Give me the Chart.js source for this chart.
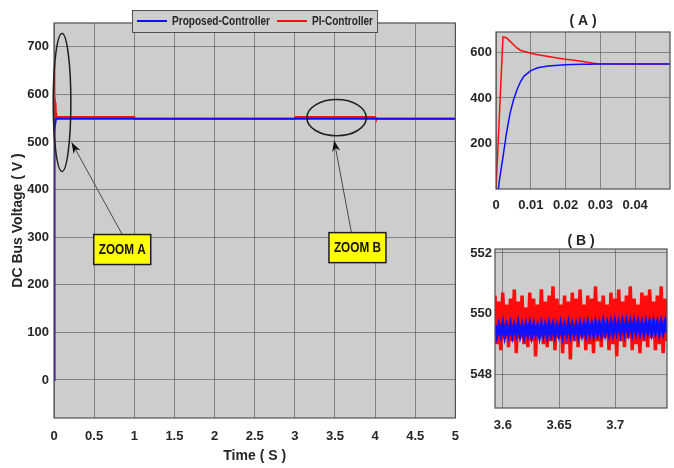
<!DOCTYPE html>
<html>
<head>
<meta charset="utf-8">
<script src="https://cdn.jsdelivr.net/npm/chart.js@4.4.1/dist/chart.umd.min.js"></script>
<style>
  html, body { margin: 0; padding: 0; background: #fff; }
  #wrap { position: relative; width: 674px; height: 468px; }
  canvas { position: absolute; }
  #mainChart { left: 0; top: 0; }
  #zoomA { left: 470px; top: 0; }
  #zoomB { left: 470px; top: 225px; }
</style>
</head>
<body>
<div id="wrap">
  <canvas id="mainChart" width="470" height="468"></canvas>
  <canvas id="zoomA" width="204" height="225"></canvas>
  <canvas id="zoomB" width="204" height="243"></canvas>
</div>
<script>
// main plot: DC bus voltage over 5 s
const mainTime = [0, 0.0007, 0.002, 0.003, 0.005, 0.008, 0.01, 0.015, 0.02, 0.025, 0.03, 0.05, 1.0, 1.01, 3.0, 3.01, 4.0, 4.01, 5.0];
const mainProposed = [0, 0, 140, 245, 390, 495, 520, 541, 546, 548, 549, 549, 549, 549, 549, 549, 549, 549, 549];
const mainPI = [0, 230, 668, 665, 635, 605, 597, 582, 570, 560, 550, 552.5, 552.5, 549, 549, 552.5, 552.5, 549, 549];
const mainXTicks = [0, 0.5, 1, 1.5, 2, 2.5, 3, 3.5, 4, 4.5, 5];
const mainYTicks = [0, 100, 200, 300, 400, 500, 600, 700];

// zoom A: start-up transient
const zoomATime = [0, 0.0007, 0.001, 0.002, 0.003, 0.004, 0.005, 0.006, 0.007, 0.008, 0.01, 0.012, 0.015, 0.018, 0.02, 0.022, 0.025, 0.027, 0.029, 0.035, 0.04, 0.05];
const zoomAProposed = [0, 0, 40, 140, 245, 330, 390, 435, 470, 495, 520, 533, 541, 544, 546, 547, 548, 548.5, 549, 549, 549, 549];
const zoomAPI = [0, 230, 330, 668, 665, 650, 635, 620, 610, 605, 597, 590, 582, 575, 570, 567, 560, 555, 550, 549, 549, 549];
const zoomAXTicks = [0, 0.01, 0.02, 0.03, 0.04];
const zoomAYTicks = [200, 400, 600];

// zoom B: steady-state ripple between 3.593 s and 3.746 s
const zoomBStart = 3.593;
const zoomBEnd = 3.746;
const zoomBPI = [550.6, 549.0, 550.4, 548.8, 550.7, 549.2, 550.3, 548.9, 550.5, 549.1, 550.8, 548.7, 550.4, 549.2, 550.6, 549.0, 550.2, 548.9, 550.7, 549.1,
  550.5, 548.6, 550.3, 549.2, 550.8, 549.0, 550.4, 548.9, 550.6, 549.1, 550.9, 548.8, 550.5, 549.2, 550.3, 548.7, 550.6, 549.0, 550.4, 548.5,
  550.7, 549.1, 550.5, 548.9, 550.8, 549.2, 550.3, 548.8, 550.6, 549.0, 550.5, 548.7, 550.9, 549.1, 550.4, 548.9, 550.6, 549.2, 550.3, 548.8,
  550.7, 549.0, 550.5, 548.6, 550.8, 549.1, 550.4, 548.9, 550.6, 549.2, 550.9, 548.8, 550.5, 549.0, 550.3, 548.7, 550.7, 549.1, 550.6, 548.9,
  550.8, 549.2, 550.4, 548.8, 550.6, 549.0, 550.9, 548.7, 550.5, 549.1];
const zoomBProposed = [549.62, 549.30, 549.60, 549.33, 549.65, 549.28, 549.58, 549.32, 549.63, 549.30, 549.60, 549.35, 549.66, 549.31, 549.59, 549.29, 549.62, 549.34, 549.64, 549.30,
  549.61, 549.33, 549.58, 549.28, 549.63, 549.32, 549.60, 549.30, 549.65, 549.34, 549.62, 549.31, 549.59, 549.33, 549.64, 549.30, 549.61, 549.35, 549.66, 549.32,
  549.62, 549.34, 549.60, 549.31, 549.65, 549.35, 549.63, 549.33, 549.67, 549.36, 549.64, 549.34, 549.68, 549.37, 549.65, 549.35, 549.70, 549.38, 549.66, 549.36,
  549.69, 549.38, 549.71, 549.40, 549.68, 549.37, 549.70, 549.39, 549.72, 549.40, 549.69, 549.38, 549.71, 549.41, 549.70, 549.39, 549.68, 549.38, 549.70, 549.40,
  549.69, 549.39, 549.71, 549.41, 549.68, 549.38, 549.70, 549.40, 549.69, 549.39];
const zoomBXTicks = [3.6, 3.65, 3.7];
const zoomBYTicks = [548, 550, 552];

const seriesNames = ["Proposed-Controller", "PI-Controller"];

const BLUE = "#1010ff";
const RED = "#ff0c0c";
const PLOT_BG = "#cdcdcd";
const GRID = "rgba(70, 70, 70, 0.55)";
const FRAME = "#505050";
const TEXT = "#262626";
const FONT = '"Liberation Sans", Arial, sans-serif';
const NARROW = 0.84;

Chart.defaults.font.family = FONT;
Chart.defaults.font.weight = "bold";
Chart.defaults.font.size = 13;
Chart.defaults.color = TEXT;

function toPoints(xs, ys) {
  return ys.map((y, i) => ({ x: xs[i], y: y }));
}

function sampleTimes(start, end, n) {
  const out = [];
  for (let i = 0; i < n; i++) out.push(start + (end - start) * i / (n - 1));
  return out;
}

// text squeezed horizontally, close to the narrow face in the original
function narrowText(ctx, text, x, y) {
  ctx.save();
  ctx.translate(x, y);
  ctx.scale(NARROW, 1);
  ctx.fillText(text, 0, 0);
  ctx.restore();
}

const plotBox = {
  id: "plotBox",
  beforeDraw(chart) {
    const a = chart.chartArea;
    const ctx = chart.ctx;
    ctx.save();
    ctx.fillStyle = PLOT_BG;
    ctx.fillRect(a.left, a.top, a.right - a.left, a.bottom - a.top);
    ctx.restore();
  },
  afterDraw(chart) {
    const a = chart.chartArea;
    const ctx = chart.ctx;
    ctx.save();
    ctx.strokeStyle = FRAME;
    ctx.lineWidth = 1.2;
    ctx.strokeRect(a.left, a.top, a.right - a.left, a.bottom - a.top);
    ctx.restore();
  },
};

function titlePlugin(text, y) {
  return {
    id: "subTitle",
    afterDraw(chart) {
      const a = chart.chartArea;
      const ctx = chart.ctx;
      ctx.save();
      ctx.fillStyle = TEXT;
      ctx.font = "bold 14px " + FONT;
      ctx.textAlign = "center";
      ctx.textBaseline = "middle";
      ctx.fillText(text, (a.left + a.right) / 2, y);
      ctx.restore();
    },
  };
}

function axis(min, max, tickList, opts) {
  return {
    type: "linear",
    min: min,
    max: max,
    afterBuildTicks: (s) => {
      s.ticks = tickList.map((v) => ({ value: v }));
    },
    afterFit: opts.fit,
    grid: { color: GRID, lineWidth: 1, drawTicks: false },
    border: { display: false },
    ticks: {
      padding: opts.pad,
      autoSkip: false,
      maxRotation: 0,
      callback: (v) => String(v),
    },
    title: opts.title || { display: false },
  };
}

function lineSet(label, data, color, width) {
  return {
    label: label,
    data: data,
    borderColor: color,
    backgroundColor: color,
    borderWidth: width,
    pointRadius: 0,
    tension: 0,
    fill: false,
  };
}

const baseOptions = {
  responsive: false,
  animation: false,
  devicePixelRatio: 1,
  events: [],
  plugins: { legend: { display: false }, tooltip: { enabled: false } },
};

// legend + zoom annotations on the main plot
const mainDecor = {
  id: "mainDecor",
  afterDraw(chart) {
    const ctx = chart.ctx;
    const a = chart.chartArea;
    const xs = chart.scales.x;
    const ys = chart.scales.y;
    const px = (v) => xs.getPixelForValue(v);
    const py = (v) => ys.getPixelForValue(v);
    ctx.save();

    // legend box
    ctx.font = "bold 12px " + FONT;
    const colors = [BLUE, RED];
    const w0 = ctx.measureText(seriesNames[0]).width * NARROW;
    const w1 = ctx.measureText(seriesNames[1]).width * NARROW;
    const boxW = 5 + 30 + 5 + w0 + 7 + 30 + 5 + w1 + 4;
    const boxH = 22;
    const bx = Math.round((a.left + a.right) / 2 - boxW / 2);
    const by = a.top - 13;
    ctx.fillStyle = PLOT_BG;
    ctx.fillRect(bx, by, boxW, boxH);
    ctx.strokeStyle = FRAME;
    ctx.lineWidth = 1;
    ctx.strokeRect(bx + 0.5, by + 0.5, boxW, boxH);
    let cx = bx + 5;
    const cy = by + boxH / 2;
    ctx.textBaseline = "middle";
    ctx.textAlign = "left";
    [w0, w1].forEach((w, i) => {
      ctx.strokeStyle = colors[i];
      ctx.lineWidth = 2;
      ctx.beginPath();
      ctx.moveTo(cx, cy);
      ctx.lineTo(cx + 30, cy);
      ctx.stroke();
      ctx.fillStyle = TEXT;
      narrowText(ctx, seriesNames[i], cx + 35, cy + 1);
      cx += 35 + w + 7;
    });

    // ellipses
    ctx.strokeStyle = "#1e1e1e";
    ctx.lineWidth = 1.5;
    const ell = (t, v, rt, rv) => {
      ctx.beginPath();
      ctx.ellipse(px(t), py(v), Math.abs(px(t + rt) - px(t)), Math.abs(py(v + rv) - py(v)), 0, 0, Math.PI * 2);
      ctx.stroke();
    };
    ell(0.1, 583, 0.11, 145);
    ell(3.52, 551, 0.37, 38);

    // arrows and labels
    const arrow = (x0, y0, x1, y1) => {
      ctx.strokeStyle = "#4a4a4a";
      ctx.lineWidth = 1;
      ctx.beginPath();
      ctx.moveTo(x0, y0);
      ctx.lineTo(x1, y1);
      ctx.stroke();
      const ang = Math.atan2(y1 - y0, x1 - x0);
      const L = 11, W = 4;
      ctx.fillStyle = "#111";
      ctx.beginPath();
      ctx.moveTo(x1, y1);
      ctx.lineTo(x1 - L * Math.cos(ang) + W * Math.sin(ang), y1 - L * Math.sin(ang) - W * Math.cos(ang));
      ctx.lineTo(x1 - L * Math.cos(ang) * 0.7, y1 - L * Math.sin(ang) * 0.7);
      ctx.lineTo(x1 - L * Math.cos(ang) - W * Math.sin(ang), y1 - L * Math.sin(ang) + W * Math.cos(ang));
      ctx.closePath();
      ctx.fill();
    };
    const label = (text, t, v, tipT, tipV, dx) => {
      const x = px(t), y = py(v);
      const w = 57, h = 30;
      arrow(x + dx, y - h / 2, px(tipT), py(tipV));
      ctx.fillStyle = "#ffff00";
      ctx.fillRect(x - w / 2, y - h / 2, w, h);
      ctx.strokeStyle = "#1e1e1e";
      ctx.lineWidth = 1.5;
      ctx.strokeRect(x - w / 2, y - h / 2, w, h);
      ctx.fillStyle = "#111";
      ctx.font = "bold 14px " + FONT;
      ctx.textAlign = "center";
      ctx.textBaseline = "middle";
      narrowText(ctx, text, x, y + 1);
    };
    label("ZOOM A", 0.85, 274, 0.22, 499, 0);
    label("ZOOM B", 3.78, 278, 3.49, 503, -6);
    ctx.restore();
  },
};

new Chart(document.getElementById("mainChart"), {
  type: "line",
  data: {
    datasets: [
      lineSet(seriesNames[0], toPoints(mainTime, mainProposed), BLUE, 2),
      lineSet(seriesNames[1], toPoints(mainTime, mainPI), RED, 2),
    ],
  },
  options: Object.assign({}, baseOptions, {
    layout: { padding: { top: 23, right: 11, left: 0, bottom: 0 } },
    scales: {
      x: axis(0, 5, mainXTicks, {
        fit: (s) => { s.height = 50; },
        pad: 11,
        title: { display: true, text: "Time ( S )", padding: { top: 0, bottom: 3 }, font: { size: 14, weight: "bold" } },
      }),
      y: axis(-80, 750, mainYTicks, {
        fit: (s) => { s.width = 54; },
        pad: 5,
        title: { display: true, text: "DC Bus Voltage ( V )", padding: { top: 10, bottom: 0 }, font: { size: 14, weight: "bold" } },
      }),
    },
  }),
  plugins: [plotBox, mainDecor],
});

new Chart(document.getElementById("zoomA"), {
  type: "line",
  data: {
    datasets: [
      lineSet(seriesNames[0], toPoints(zoomATime, zoomAProposed), BLUE, 1.5),
      lineSet(seriesNames[1], toPoints(zoomATime, zoomAPI), RED, 1.5),
    ],
  },
  options: Object.assign({}, baseOptions, {
    layout: { padding: { top: 32, right: 4, left: 0, bottom: 0 } },
    scales: {
      x: axis(0, 0.05, zoomAXTicks, { fit: (s) => { s.height = 36; }, pad: 9 }),
      y: axis(0, 690, zoomAYTicks, { fit: (s) => { s.width = 26; }, pad: 4 }),
    },
  }),
  plugins: [plotBox, titlePlugin("( A )", 21)],
});

new Chart(document.getElementById("zoomB"), {
  type: "line",
  data: {
    datasets: [
      lineSet(seriesNames[0], toPoints(sampleTimes(zoomBStart, zoomBEnd, zoomBProposed.length), zoomBProposed), BLUE, 3.5),
      lineSet(seriesNames[1], toPoints(sampleTimes(zoomBStart, zoomBEnd, zoomBPI.length), zoomBPI), RED, 3.5),
    ],
  },
  options: Object.assign({}, baseOptions, {
    layout: { padding: { top: 24, right: 7, left: 0, bottom: 0 } },
    scales: {
      x: axis(zoomBStart, zoomBEnd, zoomBXTicks, { fit: (s) => { s.height = 60; }, pad: 10 }),
      y: axis(546.9, 552.13, zoomBYTicks, { fit: (s) => { s.width = 25; }, pad: 3 }),
    },
  }),
  plugins: [plotBox, titlePlugin("( B )", 16)],
});
</script>
</body>
</html>
